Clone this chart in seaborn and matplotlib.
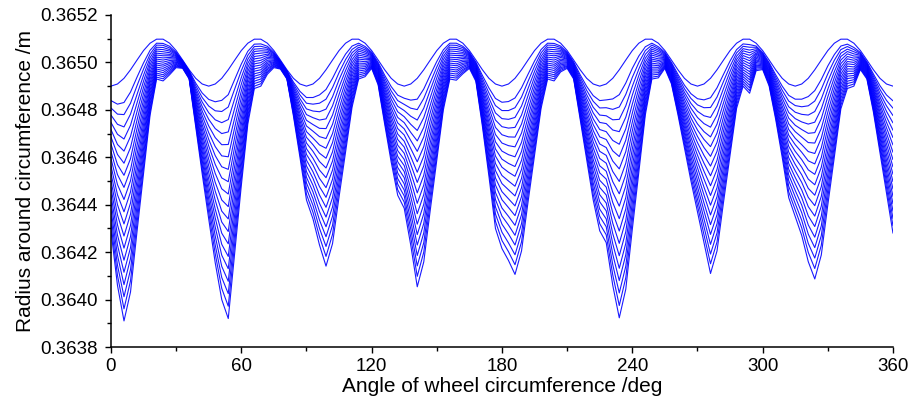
import numpy as np
import pandas as pd
import matplotlib
matplotlib.use("Agg")
import matplotlib.pyplot as plt
import seaborn as sns
from matplotlib.ticker import MultipleLocator, FormatStrFormatter

# Sampling angles around the wheel (deg)
angle_deg = [
    0, 3, 6, 9, 12, 15, 18, 21, 24, 27, 30, 33, 36, 39, 42,
    45, 48, 51, 54, 57, 60, 63, 66, 69, 72, 75, 78, 81, 84, 87,
    90, 93, 96, 99, 102, 105, 108, 111, 114, 117, 120, 123, 126, 129, 132,
    135, 138, 141, 144, 147, 150, 153, 156, 159, 162, 165, 168, 171, 174, 177,
    180, 183, 186, 189, 192, 195, 198, 201, 204, 207, 210, 213, 216, 219, 222,
    225, 228, 231, 234, 237, 240, 243, 246, 249, 252, 255, 258, 261, 264, 267,
    270, 273, 276, 279, 282, 285, 288, 291, 294, 297, 300, 303, 306, 309, 312,
    315, 318, 321, 324, 327, 330, 333, 336, 339, 342, 345, 348, 351, 354, 357,
    360,
]

# Wheel radius for each wear stage, in micrometres above 364 mm
stage_01 = [
    900, 909, 933, 969, 1010, 1050, 1081, 1098, 1098, 1081, 1050, 1010, 969, 933, 909,
    900, 909, 933, 969, 1010, 1050, 1081, 1098, 1098, 1081, 1050, 1010, 969, 933, 909,
    900, 909, 933, 969, 1010, 1050, 1081, 1098, 1098, 1081, 1050, 1010, 969, 933, 909,
    900, 909, 933, 969, 1010, 1050, 1081, 1098, 1098, 1081, 1050, 1010, 969, 933, 909,
    900, 909, 933, 969, 1010, 1050, 1081, 1098, 1098, 1081, 1050, 1010, 969, 933, 909,
    900, 909, 933, 969, 1010, 1050, 1081, 1098, 1098, 1081, 1050, 1010, 969, 933, 909,
    900, 909, 933, 969, 1010, 1050, 1081, 1098, 1098, 1081, 1050, 1010, 969, 933, 909,
    900, 909, 933, 969, 1010, 1050, 1081, 1098, 1098, 1081, 1050, 1010, 969, 933, 909,
    900,
]
stage_02 = [
    839, 824, 831, 875, 938, 998, 1051, 1081, 1080, 1068, 1043, 1007, 965, 913, 871,
    844, 834, 840, 864, 929, 993, 1047, 1077, 1078, 1068, 1043, 1006, 965, 917, 878,
    852, 852, 863, 886, 933, 988, 1035, 1069, 1081, 1067, 1043, 1000, 946, 898, 862,
    849, 841, 845, 888, 947, 1004, 1053, 1081, 1081, 1068, 1043, 1001, 945, 892, 848,
    832, 835, 850, 893, 950, 1006, 1054, 1081, 1080, 1069, 1043, 1002, 948, 899, 860,
    839, 842, 846, 864, 913, 975, 1027, 1066, 1081, 1066, 1043, 1000, 950, 904, 868,
    847, 842, 851, 893, 950, 1006, 1054, 1078, 1075, 1069, 1042, 999, 948, 900, 861,
    845, 845, 856, 881, 928, 985, 1033, 1069, 1077, 1063, 1042, 1002, 951, 902, 863,
    838,
]
stage_03 = [
    808, 782, 780, 828, 902, 972, 1035, 1073, 1072, 1061, 1039, 1005, 963, 903, 852,
    816, 796, 793, 812, 889, 965, 1030, 1067, 1068, 1061, 1039, 1004, 963, 909, 863,
    828, 824, 828, 845, 894, 957, 1012, 1055, 1073, 1060, 1039, 994, 935, 880, 839,
    823, 807, 801, 848, 915, 981, 1039, 1073, 1072, 1062, 1039, 997, 933, 871, 818,
    797, 797, 809, 854, 920, 984, 1040, 1073, 1072, 1063, 1039, 998, 938, 882, 836,
    808, 809, 802, 812, 865, 937, 999, 1050, 1073, 1059, 1039, 995, 941, 889, 848,
    821, 809, 810, 854, 920, 984, 1040, 1068, 1064, 1064, 1038, 994, 938, 883, 837,
    818, 813, 817, 837, 887, 952, 1009, 1054, 1067, 1054, 1038, 998, 942, 886, 840,
    807,
]
stage_04 = [
    778, 739, 728, 782, 865, 946, 1020, 1064, 1063, 1054, 1036, 1003, 961, 892, 833,
    788, 758, 746, 759, 848, 936, 1013, 1056, 1058, 1055, 1036, 1002, 961, 901, 847,
    804, 795, 792, 803, 855, 927, 989, 1041, 1064, 1053, 1035, 989, 923, 862, 815,
    797, 773, 757, 807, 884, 958, 1025, 1064, 1063, 1055, 1035, 992, 921, 850, 787,
    763, 760, 768, 816, 890, 962, 1026, 1064, 1063, 1057, 1035, 994, 927, 864, 811,
    778, 775, 758, 760, 817, 899, 972, 1034, 1064, 1052, 1035, 990, 931, 874, 827,
    794, 775, 768, 816, 890, 962, 1026, 1058, 1052, 1058, 1034, 988, 927, 866, 813,
    790, 781, 778, 793, 846, 920, 985, 1039, 1056, 1045, 1034, 994, 933, 870, 817,
    776,
]
stage_05 = [
    747, 697, 677, 735, 829, 921, 1005, 1056, 1054, 1048, 1032, 1001, 959, 882, 814,
    760, 721, 700, 707, 808, 908, 996, 1046, 1049, 1048, 1032, 1000, 959, 893, 832,
    780, 767, 757, 762, 817, 896, 966, 1027, 1056, 1046, 1031, 984, 912, 845, 792,
    771, 739, 713, 767, 852, 935, 1011, 1056, 1055, 1049, 1031, 988, 909, 830, 757,
    729, 723, 726, 778, 860, 940, 1012, 1056, 1054, 1051, 1031, 990, 917, 847, 787,
    747, 742, 715, 708, 769, 862, 945, 1018, 1056, 1045, 1031, 985, 922, 860, 807,
    768, 742, 727, 778, 860, 940, 1012, 1049, 1041, 1052, 1030, 983, 917, 850, 789,
    763, 749, 740, 748, 804, 887, 961, 1025, 1046, 1036, 1030, 990, 924, 855, 794,
    745,
]
stage_06 = [
    717, 654, 626, 688, 793, 895, 990, 1048, 1045, 1041, 1028, 1000, 957, 872, 795,
    732, 683, 653, 654, 767, 879, 979, 1036, 1039, 1042, 1028, 999, 957, 885, 816,
    756, 738, 722, 721, 778, 865, 943, 1012, 1048, 1039, 1028, 979, 900, 827, 768,
    746, 705, 669, 726, 820, 911, 996, 1048, 1046, 1042, 1028, 983, 897, 809, 726,
    695, 686, 685, 740, 830, 918, 999, 1048, 1045, 1045, 1028, 986, 906, 830, 762,
    717, 708, 671, 655, 720, 824, 918, 1002, 1048, 1037, 1028, 980, 912, 845, 786,
    741, 708, 686, 740, 830, 918, 999, 1039, 1030, 1046, 1026, 977, 906, 833, 765,
    735, 717, 701, 704, 763, 855, 937, 1010, 1036, 1027, 1026, 986, 915, 839, 771,
    714,
]
stage_07 = [
    686, 612, 575, 641, 757, 869, 975, 1039, 1036, 1034, 1025, 998, 955, 862, 776,
    704, 645, 606, 602, 727, 851, 962, 1025, 1029, 1035, 1025, 997, 955, 877, 801,
    732, 710, 687, 679, 739, 834, 920, 998, 1039, 1032, 1024, 973, 889, 809, 745,
    720, 671, 625, 686, 789, 888, 982, 1039, 1037, 1036, 1024, 979, 885, 788, 696,
    660, 649, 644, 702, 800, 896, 985, 1039, 1036, 1039, 1024, 982, 896, 813, 738,
    686, 675, 627, 603, 672, 786, 891, 986, 1039, 1030, 1024, 975, 903, 830, 766,
    715, 675, 645, 702, 800, 896, 985, 1029, 1018, 1040, 1022, 972, 896, 816, 741,
    708, 685, 662, 660, 722, 822, 913, 995, 1025, 1018, 1022, 982, 906, 823, 748,
    683,
]
stage_08 = [
    656, 569, 524, 594, 721, 843, 959, 1031, 1028, 1028, 1021, 996, 953, 852, 757,
    676, 607, 560, 549, 686, 822, 945, 1015, 1019, 1029, 1021, 995, 953, 869, 785,
    708, 681, 652, 638, 700, 803, 897, 984, 1031, 1025, 1020, 968, 877, 792, 721,
    694, 637, 581, 645, 757, 865, 968, 1031, 1029, 1029, 1020, 974, 873, 768, 665,
    626, 611, 602, 663, 770, 874, 971, 1031, 1028, 1033, 1020, 978, 885, 796, 713,
    656, 641, 584, 551, 624, 748, 863, 970, 1031, 1023, 1020, 970, 893, 816, 745,
    688, 641, 604, 663, 770, 874, 971, 1019, 1007, 1035, 1018, 966, 885, 800, 717,
    680, 653, 624, 616, 681, 790, 889, 980, 1015, 1009, 1018, 978, 897, 808, 725,
    652,
]
stage_09 = [
    625, 527, 473, 547, 685, 817, 944, 1022, 1019, 1021, 1018, 994, 951, 842, 738,
    648, 570, 513, 497, 646, 794, 928, 1004, 1009, 1022, 1018, 993, 951, 861, 770,
    684, 653, 617, 596, 662, 772, 874, 969, 1022, 1018, 1016, 963, 866, 774, 698,
    668, 603, 537, 605, 726, 842, 954, 1022, 1020, 1023, 1016, 970, 861, 747, 635,
    592, 574, 561, 625, 740, 852, 957, 1022, 1019, 1027, 1016, 974, 875, 779, 689,
    625, 608, 540, 498, 575, 711, 836, 954, 1022, 1015, 1016, 965, 884, 801, 725,
    662, 608, 563, 625, 740, 852, 957, 1009, 995, 1029, 1014, 961, 875, 783, 693,
    653, 621, 585, 572, 640, 757, 865, 966, 1004, 1000, 1014, 974, 888, 792, 702,
    621,
]
stage_10 = [
    595, 485, 422, 501, 649, 791, 929, 1014, 1010, 1015, 1014, 993, 950, 832, 720,
    620, 532, 467, 445, 605, 765, 911, 994, 999, 1016, 1014, 991, 950, 854, 755,
    660, 625, 582, 555, 623, 742, 852, 955, 1014, 1011, 1013, 958, 855, 757, 675,
    643, 570, 494, 564, 694, 819, 940, 1014, 1012, 1017, 1013, 965, 850, 727, 605,
    558, 537, 520, 587, 711, 830, 944, 1014, 1010, 1021, 1013, 970, 865, 762, 665,
    595, 575, 497, 446, 527, 673, 809, 939, 1014, 1008, 1013, 960, 875, 787, 705,
    635, 575, 522, 587, 711, 830, 944, 999, 984, 1023, 1010, 955, 865, 767, 670,
    625, 590, 547, 528, 599, 725, 841, 951, 994, 991, 1010, 970, 880, 777, 680,
    590,
]
stage_11 = [
    564, 442, 370, 454, 612, 765, 914, 1006, 1001, 1008, 1010, 991, 948, 821, 701,
    592, 494, 420, 392, 565, 737, 893, 984, 989, 1009, 1010, 989, 948, 846, 739,
    636, 596, 546, 514, 584, 711, 829, 941, 1006, 1003, 1009, 952, 843, 739, 651,
    617, 536, 450, 524, 662, 796, 926, 1006, 1003, 1010, 1009, 961, 838, 706, 574,
    523, 500, 478, 549, 681, 807, 930, 1006, 1001, 1014, 1009, 966, 854, 744, 640,
    564, 541, 453, 394, 479, 635, 782, 923, 1006, 1001, 1009, 955, 865, 772, 684,
    609, 541, 480, 549, 681, 807, 930, 989, 973, 1017, 1006, 950, 854, 750, 646,
    598, 558, 508, 484, 558, 692, 817, 936, 984, 981, 1006, 966, 871, 761, 657,
    559,
]
stage_12 = [
    534, 400, 319, 407, 576, 739, 899, 997, 992, 1001, 1007, 989, 946, 811, 682,
    564, 457, 373, 340, 524, 708, 876, 973, 979, 1002, 1007, 987, 946, 838, 724,
    612, 568, 511, 472, 546, 680, 806, 926, 997, 996, 1005, 947, 832, 721, 628,
    591, 502, 406, 483, 631, 773, 912, 997, 994, 1004, 1005, 956, 826, 685, 544,
    489, 463, 437, 511, 651, 785, 916, 997, 992, 1008, 1005, 962, 844, 727, 616,
    534, 508, 409, 341, 430, 598, 755, 907, 997, 993, 1005, 950, 856, 757, 664,
    582, 508, 439, 511, 651, 785, 916, 979, 961, 1011, 1002, 944, 844, 733, 622,
    570, 526, 469, 440, 517, 659, 793, 922, 973, 972, 1002, 962, 862, 745, 634,
    528,
]
stage_13 = [
    503, 357, 268, 360, 540, 713, 883, 989, 984, 995, 1003, 987, 944, 801, 663,
    536, 419, 327, 287, 484, 680, 859, 963, 969, 996, 1003, 985, 944, 830, 708,
    588, 539, 476, 431, 507, 649, 783, 912, 989, 989, 1001, 942, 820, 704, 604,
    565, 468, 362, 443, 599, 750, 898, 989, 986, 997, 1001, 952, 814, 665, 513,
    455, 425, 395, 472, 621, 763, 902, 989, 984, 1002, 1001, 958, 833, 710, 591,
    503, 474, 366, 289, 382, 560, 727, 891, 989, 986, 1001, 945, 846, 743, 643,
    556, 474, 398, 472, 621, 763, 902, 969, 950, 1006, 998, 939, 833, 717, 598,
    543, 494, 431, 396, 476, 627, 769, 907, 963, 963, 998, 958, 853, 730, 611,
    497,
]
stage_14 = [
    473, 315, 217, 313, 504, 687, 868, 980, 975, 988, 1000, 986, 942, 791, 644,
    508, 381, 280, 235, 443, 651, 842, 952, 959, 989, 1000, 983, 942, 822, 693,
    564, 511, 441, 389, 468, 618, 760, 898, 980, 982, 998, 937, 809, 686, 581,
    540, 434, 318, 402, 568, 727, 884, 980, 977, 991, 998, 947, 802, 644, 483,
    421, 388, 354, 434, 591, 741, 889, 980, 975, 996, 998, 954, 823, 693, 567,
    473, 441, 322, 237, 334, 522, 700, 875, 980, 979, 998, 940, 837, 728, 623,
    529, 441, 357, 434, 591, 741, 889, 959, 938, 1000, 994, 933, 823, 700, 574,
    515, 462, 392, 352, 435, 594, 745, 892, 952, 954, 994, 954, 844, 714, 588,
    466,
]
stage_15 = [
    442, 272, 166, 266, 468, 662, 853, 972, 966, 981, 996, 984, 940, 781, 625,
    480, 344, 233, 182, 403, 623, 825, 942, 950, 983, 996, 981, 940, 814, 677,
    540, 482, 406, 348, 430, 587, 737, 884, 972, 975, 994, 931, 797, 668, 557,
    514, 400, 274, 362, 536, 704, 870, 972, 968, 984, 994, 943, 790, 623, 452,
    386, 351, 313, 396, 561, 719, 875, 972, 966, 990, 994, 950, 812, 676, 542,
    442, 407, 278, 185, 286, 485, 673, 859, 972, 972, 994, 935, 827, 713, 602,
    503, 407, 316, 396, 561, 719, 875, 950, 927, 994, 990, 928, 812, 683, 550,
    488, 430, 353, 308, 394, 562, 721, 878, 942, 945, 990, 950, 835, 698, 565,
    435,
]
stage_16 = [
    412, 230, 115, 219, 432, 636, 838, 964, 957, 975, 992, 982, 938, 771, 606,
    452, 306, 187, 130, 362, 594, 808, 932, 940, 976, 992, 980, 938, 806, 662,
    516, 454, 371, 307, 391, 556, 714, 869, 964, 968, 990, 926, 786, 651, 534,
    488, 366, 230, 321, 504, 680, 855, 964, 960, 978, 990, 938, 778, 603, 422,
    352, 314, 271, 358, 531, 697, 861, 964, 957, 984, 990, 946, 802, 659, 518,
    412, 374, 235, 132, 237, 447, 646, 843, 964, 964, 990, 930, 818, 699, 582,
    476, 374, 275, 358, 531, 697, 861, 940, 916, 988, 986, 922, 802, 667, 526,
    460, 398, 315, 263, 352, 529, 697, 863, 932, 936, 986, 946, 826, 683, 542,
    404,
]
stage_17 = [
    381, 187, 63, 173, 395, 610, 823, 955, 948, 968, 989, 980, 936, 760, 587,
    424, 268, 140, 77, 322, 566, 791, 921, 930, 970, 989, 978, 936, 798, 646,
    492, 425, 335, 265, 352, 526, 691, 855, 955, 961, 986, 921, 774, 633, 510,
    462, 332, 186, 281, 473, 657, 841, 955, 951, 971, 986, 934, 766, 582, 391,
    318, 277, 230, 320, 501, 675, 847, 955, 948, 978, 986, 942, 791, 641, 493,
    381, 340, 191, 80, 189, 409, 619, 827, 955, 957, 986, 925, 808, 684, 561,
    450, 340, 233, 320, 501, 675, 847, 930, 904, 982, 982, 917, 791, 650, 502,
    433, 366, 276, 219, 311, 497, 673, 848, 921, 927, 982, 942, 817, 667, 519,
    373,
]
stage_18 = [
    351, 145, 12, 126, 359, 584, 807, 947, 940, 961, 985, 979, 934, 750, 568,
    396, 230, 93, 25, 281, 537, 774, 911, 920, 963, 985, 976, 934, 790, 631,
    468, 397, 300, 224, 313, 495, 668, 841, 947, 954, 983, 916, 763, 615, 487,
    437, 298, 142, 240, 441, 634, 827, 947, 942, 965, 983, 929, 754, 561, 361,
    284, 239, 189, 281, 471, 653, 834, 947, 940, 972, 983, 938, 781, 624, 469,
    351, 307, 147, 28, 141, 371, 591, 811, 947, 950, 983, 920, 799, 669, 541,
    423, 307, 192, 281, 471, 653, 834, 920, 893, 977, 978, 911, 781, 633, 478,
    405, 334, 237, 175, 270, 464, 649, 833, 911, 918, 978, 938, 808, 651, 496,
    342,
]
stage_19 = [
    320, 102, -39, 79, 323, 558, 792, 938, 931, 955, 982, 977, 932, 740, 549,
    368, 193, 47, -28, 241, 509, 757, 900, 910, 957, 982, 974, 932, 782, 615,
    444, 368, 265, 182, 275, 464, 645, 826, 938, 947, 979, 910, 751, 598, 463,
    411, 264, 98, 200, 410, 611, 813, 938, 934, 958, 979, 925, 742, 541, 330,
    249, 202, 147, 243, 441, 631, 820, 938, 931, 966, 979, 934, 770, 607, 444,
    320, 273, 104, -25, 92, 334, 564, 795, 938, 942, 979, 915, 789, 655, 520,
    397, 273, 151, 243, 441, 631, 820, 910, 881, 971, 974, 906, 770, 617, 454,
    378, 302, 199, 131, 229, 432, 625, 819, 900, 909, 974, 934, 799, 636, 473,
    311,
]
stage_20 = [
    290, 60, -90, 32, 287, 532, 777, 930, 922, 948, 978, 975, 930, 730, 530,
    340, 155, 0, -80, 200, 480, 740, 890, 900, 950, 978, 972, 930, 774, 600,
    420, 340, 230, 141, 236, 433, 622, 812, 930, 940, 975, 905, 740, 580, 440,
    385, 230, 54, 159, 378, 588, 799, 930, 925, 952, 975, 920, 730, 520, 300,
    215, 165, 106, 205, 411, 609, 806, 930, 922, 960, 975, 930, 760, 590, 420,
    290, 240, 60, -77, 44, 296, 537, 779, 930, 935, 975, 910, 780, 640, 500,
    370, 240, 110, 205, 411, 609, 806, 900, 870, 965, 970, 900, 760, 600, 430,
    350, 270, 160, 87, 188, 399, 601, 804, 890, 900, 970, 930, 790, 620, 450,
    280,
]

stages = [
    stage_01, stage_02, stage_03, stage_04, stage_05, stage_06, stage_07,
    stage_08, stage_09, stage_10, stage_11, stage_12, stage_13, stage_14,
    stage_15, stage_16, stage_17, stage_18, stage_19, stage_20,
]

# Long-form table: radius converted from micrometres (above 364 mm) to metres
frames = []
for i, um in enumerate(stages):
    frames.append(pd.DataFrame({
        "angle": angle_deg,
        "radius": 0.364 + np.asarray(um, dtype=float) * 1e-6,
        "stage": i,
    }))
df = pd.concat(frames, ignore_index=True)

sns.set_theme(style="ticks")
plt.rcParams["font.family"] = ["Liberation Sans", "DejaVu Sans"]

fig = plt.figure(figsize=(9.14, 4.05), dpi=100)
ax = fig.add_axes([0.1214, 0.1432, 0.8556, 0.8198])

sns.lineplot(
    data=df, x="angle", y="radius", units="stage", estimator=None,
    color="#0000ff", linewidth=0.8, alpha=0.9, sort=False,
    legend=False, ax=ax,
)

ax.set_xlim(0, 360)
ax.set_ylim(0.3638, 0.3652)
ax.xaxis.set_major_locator(MultipleLocator(60))
ax.xaxis.set_minor_locator(MultipleLocator(30))
ax.yaxis.set_major_locator(MultipleLocator(0.0002))
ax.yaxis.set_minor_locator(MultipleLocator(0.0001))
ax.yaxis.set_major_formatter(FormatStrFormatter("%.4f"))

ax.tick_params(which="major", direction="out", length=4.5, width=1.0,
               color="black", labelsize=13.5, labelcolor="black")
ax.tick_params(which="minor", direction="out", length=2.8, width=1.0,
               color="black")
ax.tick_params(axis="y", which="major", pad=5)
ax.tick_params(axis="x", which="major", pad=3.5)

ax.set_xlabel("Angle of wheel circumference /deg", fontsize=15,
              color="black", labelpad=1)
ax.set_ylabel("Radius around circumference /m", fontsize=15,
              color="black", labelpad=4)

sns.despine(ax=ax)
for side in ("left", "bottom"):
    ax.spines[side].set_linewidth(1.1)
    ax.spines[side].set_color("black")
ax.grid(False)

fig.savefig("out.png", dpi=100)
